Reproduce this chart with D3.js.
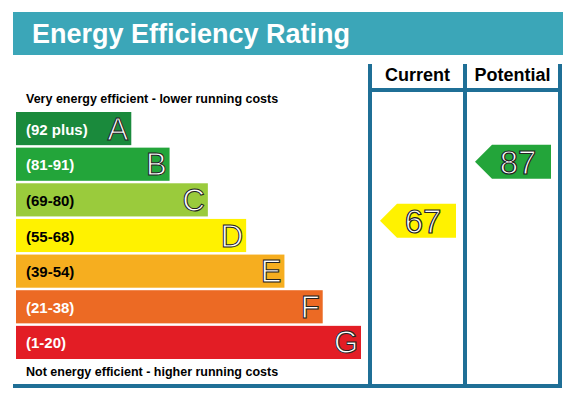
<!DOCTYPE html>
<html><head><meta charset="utf-8">
<script src="https://cdn.jsdelivr.net/npm/d3@7"></script>
<style>body{margin:0;background:#fff}</style>
</head><body><div id="view"></div>
<script>
'use strict';

const letters = ['A', 'B', 'C', 'D', 'E', 'F', 'G'];
const ranges = ['(92 plus)', '(81-91)', '(69-80)', '(55-68)', '(39-54)', '(21-38)', '(1-20)'];
const bandColors = ['#1a8a3c', '#23a53a', '#9acb3c', '#fff200', '#f6ae1f', '#ec6a24', '#e31d25'];
const bandLengths = [1, 2, 3, 4, 5, 6, 7];
const ratings = [{ name: 'Current', value: 67, color: '#fff200' },
                 { name: 'Potential', value: 87, color: '#23a53a' }];

const size = { w: 578, h: 402 };
const font = '"Liberation Sans", Arial, sans-serif';
const frame = '#1f6f96';

const svg = d3.select('#view').append('svg')
  .attr('width', size.w).attr('height', size.h)
  .style('font-family', font);

// title bar
svg.append('rect').attr('x', 13).attr('y', 12).attr('width', 550).attr('height', 43).attr('fill', '#3ba6b8');
svg.append('text').attr('x', 32).attr('y', 43).attr('fill', '#fff')
  .attr('font-size', 27).attr('font-weight', 'bold').text('Energy Efficiency Rating');

const yBand = d3.scaleBand().domain(letters).range([112, 359]).paddingInner(0.07);
const xEnd = d3.scaleLinear().domain([0, 7]).range([93, 361]);

svg.append('text').attr('x', 26).attr('y', 103).attr('font-size', 12.5).attr('font-weight', 'bold')
  .text('Very energy efficient - lower running costs');
svg.append('text').attr('x', 26).attr('y', 376).attr('font-size', 12.5).attr('font-weight', 'bold')
  .text('Not energy efficient - higher running costs');

const bands = svg.selectAll('g.band').data(letters).enter().append('g');
bands.append('rect')
  .attr('x', 16).attr('y', d => yBand(d))
  .attr('width', (d, i) => xEnd(bandLengths[i]) - 16)
  .attr('height', yBand.bandwidth())
  .attr('fill', (d, i) => bandColors[i]);
bands.append('text')
  .attr('x', 26).attr('y', d => yBand(d) + yBand.bandwidth() / 2 + 6)
  .attr('font-size', 15).attr('font-weight', 'bold')
  .attr('fill', (d, i) => (i >= 2 && i <= 4) ? '#000' : '#fff')
  .text((d, i) => ranges[i]);
bands.append('text')
  .attr('x', (d, i) => xEnd(bandLengths[i]) - 3).attr('text-anchor', 'end')
  .attr('y', d => yBand(d) + yBand.bandwidth() / 2 + 11)
  .attr('font-size', 31).attr('fill', '#fff').attr('stroke', '#222').attr('stroke-width', 1)
  .text(d => d);

// columns
const xCol = d3.scaleBand().domain(ratings.map(r => r.name)).range([370, 560]);
svg.append('line').attr('x1', 13).attr('x2', 562).attr('y1', 386).attr('y2', 386)
  .attr('stroke', frame).attr('stroke-width', 4);
svg.append('line').attr('x1', 370).attr('x2', 560).attr('y1', 90).attr('y2', 90)
  .attr('stroke', frame).attr('stroke-width', 4);
[370, 465, 560].forEach(x => svg.append('line').attr('x1', x).attr('x2', x)
  .attr('y1', 64).attr('y2', 388).attr('stroke', frame).attr('stroke-width', 4));
svg.selectAll('text.head').data(ratings).enter().append('text')
  .attr('x', d => xCol(d.name) + xCol.bandwidth() / 2).attr('y', 81)
  .attr('text-anchor', 'middle').attr('font-size', 18).attr('font-weight', 'bold')
  .text(d => d.name);

const yVal = d3.scaleLinear().domain([0, 100]).range([418.5, 123.5]);
const arrows = svg.selectAll('g.arrow').data(ratings).enter().append('g')
  .attr('transform', d => `translate(${xCol(d.name)},${yVal(d.value)})`);
arrows.append('path')
  .attr('d', 'M10,0 L27,-17 L86,-17 L86,17 L27,17 Z')
  .attr('fill', d => d.color);
arrows.append('text').attr('x', 53).attr('y', 12).attr('text-anchor', 'middle')
  .attr('font-size', 33).attr('fill', '#fff').attr('stroke', '#222').attr('stroke-width', 1.2)
  .text(d => d.value);
</script></body></html>
